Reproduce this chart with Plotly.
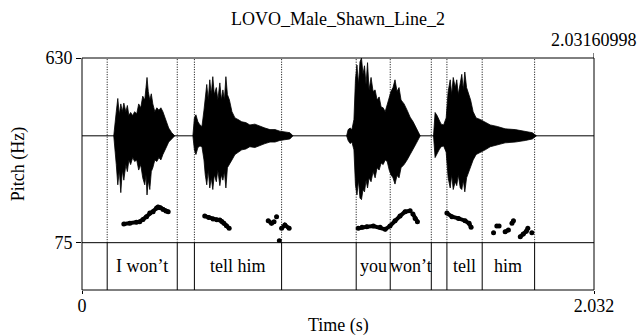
import plotly.graph_objects as go

# ---- data -------------------------------------------------------------
title = "LOVO_Male_Shawn_Line_2"
duration = 2.03160998          # seconds
f0_range = [75, 630]           # Hz

# TextGrid word tier
boundaries = [0.100, 0.378, 0.446, 0.792, 1.088, 1.223, 1.386, 1.448, 1.588, 1.796]
words = ["", "I won’t", "", "tell him", "", "you", "won’t", "", "tell", "him", ""]

# pitch track (Hz); None separates voiced stretches
pitch_t = [0.166, 0.190, 0.216, 0.229, 0.242, 0.256, 0.269, 0.282, 0.296, 0.302, 0.311, 0.322, 0.333, 0.342, None,
           0.487, 0.503, 0.520, 0.535, 0.547, 0.555, 0.563, 0.573, 0.584, None,
           0.739, 0.752, 0.762, None, 0.772, None, 0.783, None, 0.792, 0.805, 0.822, None,
           1.096, 1.111, 1.130, 1.156, 1.183, 1.203, 1.222, 1.242, 1.262, 1.282, 1.302, None,
           1.313, 1.322, 1.331, None,
           1.448, 1.468, 1.494, 1.520, 1.536, 1.544, None,
           1.633, None, 1.646, 1.655, None, 1.679, 1.692, None, 1.706, 1.712, None,
           1.739, 1.751, 1.763, 1.769, None, 1.785]
pitch_hz = [131, 133, 136, 138, 145, 153, 164, 168, 179, 182, 180, 175, 170, 168, None,
            155, 151, 146, 144, 143, 139, 133, 126, 118, None,
            141, 133, 138, None, 153, None, 81, None, 118, 128, 118, None,
            118, 121, 123, 125, 121, 115, 125, 141, 155, 168, 171, None,
            161, 148, 138, None,
            164, 153, 148, 141, 133, 121, None,
            105, None, 125, 125, None, 108, 113, None, 133, 141, None,
            93, 101, 109, 118, None, 105]

# waveform min/max envelope (normalised amplitude) for each burst of sound
burst_t = [
    [0.126, 0.130, 0.136, 0.142, 0.148, 0.154, 0.160, 0.166, 0.174, 0.180, 0.186, 0.193,
     0.201, 0.209, 0.217, 0.225, 0.233, 0.241, 0.249, 0.254, 0.258, 0.263, 0.269, 0.275,
     0.281, 0.289, 0.297, 0.305, 0.313, 0.321, 0.329, 0.337, 0.344, 0.356, 0.368],
    [0.440, 0.446, 0.452, 0.460, 0.468, 0.476, 0.484, 0.489, 0.495, 0.501, 0.507, 0.513,
     0.519, 0.525, 0.533, 0.539, 0.547, 0.553, 0.559, 0.565, 0.571, 0.577, 0.585, 0.595,
     0.607, 0.619, 0.634, 0.650, 0.666, 0.686, 0.706, 0.726, 0.746, 0.766, 0.785, 0.805,
     0.825, 0.837],
    [1.050, 1.056, 1.064, 1.071, 1.079, 1.085, 1.091, 1.097, 1.103, 1.109, 1.115, 1.121,
     1.127, 1.133, 1.139, 1.147, 1.155, 1.163, 1.171, 1.179, 1.187, 1.195, 1.203, 1.211,
     1.219, 1.226, 1.234, 1.242, 1.250, 1.258, 1.266, 1.278, 1.290, 1.302, 1.314, 1.326,
     1.342],
    [1.395, 1.401, 1.409, 1.417, 1.425, 1.435, 1.445, 1.453, 1.461, 1.467, 1.473, 1.481,
     1.487, 1.493, 1.501, 1.507, 1.513, 1.519, 1.526, 1.534, 1.542, 1.552, 1.564, 1.580,
     1.600, 1.620, 1.648, 1.679, 1.719, 1.759, 1.787, 1.803],
]
burst_hi = [
    [0, 0.10, 0.31, 0.48, 0.27, 0.41, 0.31, 0.42, 0.31, 0.39, 0.26, 0.30, 0.26, 0.31, 0.28,
     0.41, 0.36, 0.51, 0.46, 0.62, 0.75, 0.57, 0.46, 0.54, 0.41, 0.31, 0.36, 0.33, 0.36,
     0.31, 0.23, 0.15, 0.10, 0.04, 0],
    [0, 0.23, 0.27, 0.18, 0.14, 0.12, 0.33, 0.49, 0.66, 0.46, 0.72, 0.53, 0.76, 0.53, 0.62,
     0.46, 0.68, 0.46, 0.59, 0.46, 0.76, 0.53, 0.46, 0.31, 0.23, 0.21, 0.18, 0.17, 0.14,
     0.15, 0.12, 0.10, 0.08, 0.08, 0.06, 0.05, 0.04, 0],
    [0, 0.08, 0.10, 0.08, 0.21, 0.72, 0.91, 0.66, 0.95, 1.00, 0.79, 0.90, 0.66, 0.94, 0.59,
     0.75, 0.57, 0.59, 0.46, 0.50, 0.37, 0.36, 0.31, 0.40, 0.46, 0.57, 0.62, 0.72, 0.57,
     0.62, 0.46, 0.41, 0.33, 0.24, 0.18, 0.10, 0],
    [0, 0.30, 0.26, 0.21, 0.15, 0.14, 0.23, 0.57, 0.72, 0.53, 0.75, 0.62, 0.72, 0.53, 0.69,
     0.79, 0.59, 0.82, 0.62, 0.53, 0.46, 0.31, 0.23, 0.21, 0.18, 0.14, 0.12, 0.09, 0.08,
     0.06, 0.04, 0],
]
burst_lo = [
    [0, -0.12, -0.37, -0.63, -0.44, -0.73, -0.44, -0.57, -0.37, -0.46, -0.31, -0.37, -0.28,
     -0.33, -0.31, -0.44, -0.37, -0.54, -0.63, -0.50, -0.76, -0.57, -0.69, -0.46, -0.41,
     -0.31, -0.33, -0.28, -0.31, -0.24, -0.18, -0.13, -0.08, -0.04, 0],
    [0, -0.18, -0.24, -0.15, -0.13, -0.14, -0.31, -0.50, -0.63, -0.44, -0.67, -0.54, -0.69,
     -0.50, -0.59, -0.44, -0.64, -0.50, -0.57, -0.46, -0.67, -0.41, -0.37, -0.31, -0.24,
     -0.21, -0.18, -0.17, -0.14, -0.15, -0.12, -0.10, -0.08, -0.08, -0.06, -0.05, -0.04, 0],
    [0, -0.06, -0.10, -0.08, -0.18, -0.63, -0.76, -0.57, -0.80, -0.82, -0.69, -0.72, -0.57,
     -0.67, -0.54, -0.59, -0.46, -0.54, -0.41, -0.44, -0.35, -0.37, -0.31, -0.33, -0.44,
     -0.50, -0.54, -0.62, -0.51, -0.54, -0.41, -0.37, -0.31, -0.24, -0.18, -0.10, 0],
    [0, -0.28, -0.23, -0.18, -0.14, -0.13, -0.21, -0.54, -0.67, -0.50, -0.69, -0.59, -0.64,
     -0.50, -0.67, -0.69, -0.57, -0.72, -0.54, -0.46, -0.41, -0.31, -0.24, -0.21, -0.18,
     -0.14, -0.12, -0.09, -0.08, -0.06, -0.04, 0],
]
wave_range = [-1.373, 1.0]

# ---- figure -----------------------------------------------------------
FONT = "Liberation Serif"
FS = 18
TIER_TOP = 0.204   # paper fraction where the pitch panel meets the tier
txt = dict(family=FONT, size=FS, color="black")

fig = go.Figure()

# silent baseline of the sound
fig.add_trace(go.Scatter(x=[0, duration], y=[0, 0], yaxis="y2", mode="lines",
                         line=dict(color="black", width=1), hoverinfo="skip"))
# sound bursts as filled min/max envelopes
for t, hi, lo in zip(burst_t, burst_hi, burst_lo):
    fig.add_trace(go.Scatter(x=t + t[::-1], y=hi + lo[::-1], yaxis="y2", mode="lines",
                             fill="toself", fillcolor="black",
                             line=dict(color="black", width=0.8), hoverinfo="skip"))

# pitch contour
fig.add_trace(go.Scatter(x=pitch_t, y=pitch_hz, yaxis="y", mode="lines+markers",
                         line=dict(color="black", width=4),
                         marker=dict(color="black", size=5), connectgaps=False))

shapes = [
    dict(type="rect", xref="paper", yref="paper", x0=0, x1=1, y0=0, y1=1,
         line=dict(color="black", width=1)),
    dict(type="line", xref="paper", yref="paper", x0=0, x1=1, y0=TIER_TOP, y1=TIER_TOP,
         line=dict(color="black", width=1)),
    # tick above the end time
    dict(type="line", xref="x", yref="paper", x0=duration, x1=duration, y0=1, y1=1 + 5 / 232,
         line=dict(color="black", width=1)),
]
for b in boundaries:
    shapes.append(dict(type="line", xref="x", yref="paper", x0=b, x1=b, y0=0, y1=TIER_TOP,
                       line=dict(color="black", width=1)))
    shapes.append(dict(type="line", xref="x", yref="paper", x0=b, x1=b, y0=TIER_TOP, y1=1,
                       line=dict(color="black", width=1, dash="1px,1.5px")))

edges = [0] + boundaries + [duration]
annotations = []
for i, w in enumerate(words):
    if w:
        annotations.append(dict(x=(edges[i] + edges[i + 1]) / 2, y=0.5, xref="x", yref="y3",
                                xanchor="center", yanchor="middle",
                                text=w, showarrow=False, font=txt))
annotations += [
    dict(x=0.5, y=1.167, xref="paper", yref="paper", text=title, showarrow=False,
         xanchor="center", yanchor="middle", font=txt),
    dict(x=1.0, y=1.079, xref="paper", yref="paper", text=f"{duration:.8f}", showarrow=False,
         xanchor="center", yanchor="middle", font=txt),
    dict(x=0.5, y=-0.155, xref="paper", yref="paper", text="Time (s)", showarrow=False,
         xanchor="center", yanchor="middle", font=txt),
    dict(x=-0.125, y=0.5416, xref="paper", yref="paper", text="Pitch (Hz)", showarrow=False,
         xanchor="center", yanchor="middle", textangle=-90, font=txt),
]

fig.update_layout(
    width=639, height=335,
    margin=dict(l=82, r=45, t=58, b=45),
    paper_bgcolor="white", plot_bgcolor="white",
    font=txt,
    showlegend=False,
    xaxis=dict(range=[0, duration], anchor="y3", showgrid=False, zeroline=False, showline=False,
               ticks="outside", ticklen=3, tickcolor="black", tickfont=txt,
               ticklabelstandoff=-4,
               tickvals=[0, duration], ticktext=["0", f"{duration:.3f}"]),
    yaxis=dict(domain=[TIER_TOP, 1], range=f0_range, showgrid=False, zeroline=False,
               showline=False, ticks="outside", ticklen=5, tickcolor="black", tickfont=txt,
               tickvals=f0_range, ticktext=[str(v) for v in f0_range]),
    yaxis2=dict(overlaying="y", range=wave_range, visible=False),
    yaxis3=dict(domain=[0, TIER_TOP], range=[0, 1], visible=False),
    shapes=shapes,
    annotations=annotations,
)

fig.write_html("out.html")
